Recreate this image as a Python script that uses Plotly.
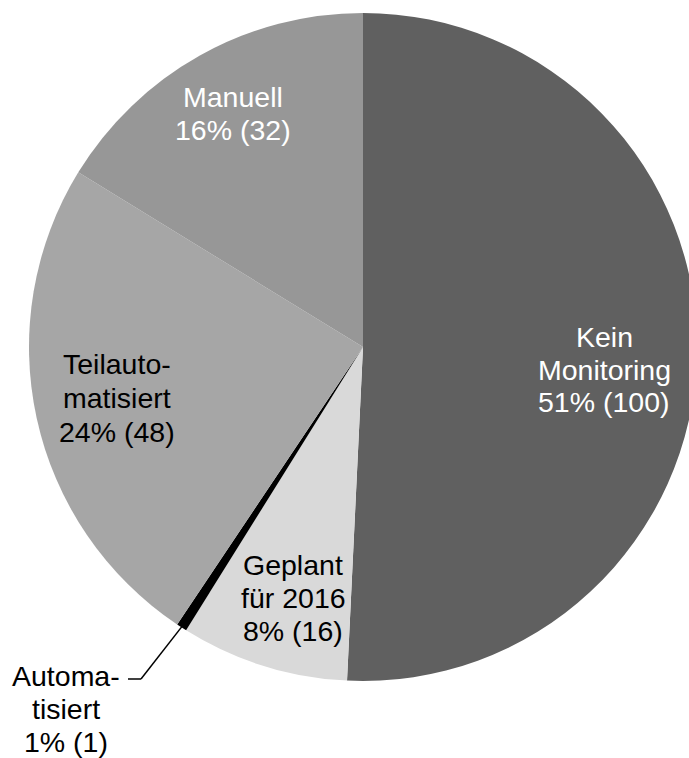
import math
import plotly.graph_objects as go

# ---- data ----
categories = ["Kein Monitoring", "Geplant für 2016", "Automatisiert", "Teilautomatisiert", "Manuell"]
label_lines = [["Kein", "Monitoring"], ["Geplant", "für 2016"], ["Automa-", "tisiert"],
               ["Teilauto-", "matisiert"], ["Manuell"]]
values = [100, 16, 1, 48, 32]

# ---- styles ----
colors = ["#606060", "#d9d9d9", "#000000", "#a6a6a6", "#979797"]
text_colors = ["#ffffff", "#000000", "#000000", "#000000", "#ffffff"]
FONT = "Arial, 'Liberation Sans', sans-serif"
FS = 28.5

# ---- layout geometry (pixels) ----
W, H = 700, 758
CX, CY, R = 363, 347, 334
# label anchor x (center) and first-line baseline, line spacing
label_pos = [(604, 347), (293, 575), (66, 686), (117, 374), (233, 107)]
line_gap = [32.5, 33, 33, 34, 33]


def px(x):
    return x / W


def py(y):
    return 1 - y / H


total = sum(values)

fig = go.Figure(go.Pie(
    labels=categories,
    values=values,
    sort=False,
    direction="clockwise",
    rotation=0,
    textinfo="none",
    hoverinfo="label+value+percent",
    marker=dict(colors=colors, line=dict(width=0)),
    showlegend=False,
    domain=dict(x=[px(CX - R), px(CX + R)], y=[py(CY + R), py(CY - R)]),
))

annotations = []
for i, (lines, v) in enumerate(zip(label_lines, values)):
    pct = round(v / total * 100)
    all_lines = lines + [f"{pct}% ({v})"]
    x0, b0 = label_pos[i]
    for j, t in enumerate(all_lines):
        base = b0 + j * line_gap[i]
        annotations.append(dict(
            x=px(x0), y=py(base - 0.3465 * FS), xref="paper", yref="paper",
            text=t, showarrow=False, xanchor="center", yanchor="middle",
            font=dict(family=FONT, size=FS, color=text_colors[i]),
        ))

# leader line for the small "Automatisiert" slice, starting at its mid angle
idx = categories.index("Automatisiert")
mid = (sum(values[:idx]) + values[idx] / 2) / total * 2 * math.pi
sx = CX + R * 0.99 * math.sin(mid)
sy = CY - R * 0.99 * math.cos(mid)
shapes = [
    dict(type="line", xref="paper", yref="paper", x0=px(sx), y0=py(sy), x1=px(141), y1=py(679),
         line=dict(color="#000000", width=1.5)),
    dict(type="line", xref="paper", yref="paper", x0=px(141), y0=py(679), x1=px(128), y1=py(679),
         line=dict(color="#000000", width=1.5)),
]

fig.update_layout(
    width=W, height=H,
    margin=dict(l=0, r=0, t=0, b=0),
    paper_bgcolor="#ffffff",
    plot_bgcolor="#ffffff",
    annotations=annotations,
    shapes=shapes,
)

fig.write_html(
    "out.html",
    config={"displayModeBar": False},
    post_script="document.body.style.margin='0';document.body.style.overflow='hidden';"
                "document.documentElement.style.overflow='hidden';",
)
